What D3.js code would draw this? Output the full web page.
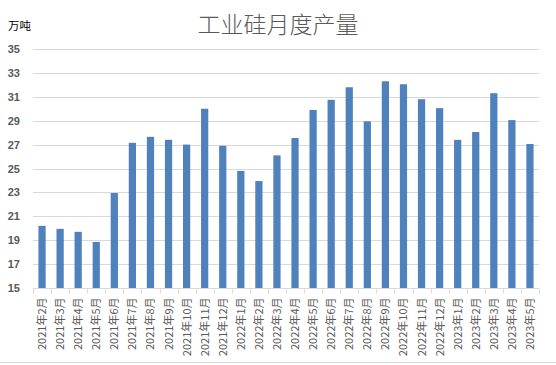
<!DOCTYPE html>
<html><head><meta charset="utf-8">
<script src="https://cdn.jsdelivr.net/npm/d3@7"></script>
<style>body{margin:0;background:#fff;} svg{display:block;}</style>
</head><body>
<script>
const categories = ["2021年2月","2021年3月","2021年4月","2021年5月","2021年6月","2021年7月","2021年8月","2021年9月","2021年10月","2021年11月","2021年12月",
"2022年1月","2022年2月","2022年3月","2022年4月","2022年5月","2022年6月","2022年7月","2022年8月","2022年9月","2022年10月","2022年11月","2022年12月",
"2023年1月","2023年2月","2023年3月","2023年4月","2023年5月"];
const values = [20.2,19.95,19.7,18.85,22.95,27.15,27.65,27.4,27.0,30.0,26.9,
24.8,23.95,26.1,27.55,29.9,30.75,31.8,28.95,32.3,32.05,30.8,30.05,
27.4,28.05,31.3,29.05,27.05];
const yTicks = [15,17,19,21,23,25,27,29,31,33,35];
const title = "工业硅月度产量";
const unit = "万吨";

const W = 556, H = 365;
const m = {left:33, right:17, top:49, bottom:77};
const svg = d3.select("body").append("svg").attr("width",W).attr("height",H);
const font = "'Noto Sans CJK SC','Microsoft YaHei',sans-serif";

const x = d3.scaleBand().domain(categories).range([m.left, W-m.right]).paddingInner(0.6).paddingOuter(0.3);
const y = d3.scaleLinear().domain([15,35]).range([H-m.bottom, m.top]);

// gridlines
svg.append("g").selectAll("line").data(yTicks.slice(1)).join("line")
  .attr("x1",m.left).attr("x2",W-m.right)
  .attr("y1",d=>Math.round(y(d))+0.5).attr("y2",d=>Math.round(y(d))+0.5)
  .attr("stroke","#d9d9d9").attr("stroke-width",1);

// bars
svg.append("g").selectAll("rect").data(values).join("rect")
  .attr("x",(d,i)=>x(categories[i]))
  .attr("width",x.bandwidth())
  .attr("y",d=>y(d))
  .attr("height",d=>y(15)-y(d))
  .attr("fill","#4f81bd");

// x axis line and ticks at band boundaries
const base = Math.round(y(15))+0.5;
svg.append("line").attr("x1",m.left).attr("x2",W-m.right).attr("y1",base).attr("y2",base)
  .attr("stroke","#d9d9d9");
const bounds = d3.range(categories.length+1).map(i => m.left + i*(W-m.left-m.right)/categories.length);
svg.append("g").selectAll("line").data(bounds).join("line")
  .attr("x1",d=>Math.round(d)+0.5).attr("x2",d=>Math.round(d)+0.5)
  .attr("y1",base).attr("y2",base+5).attr("stroke","#d9d9d9");

// x labels
svg.append("g").selectAll("text").data(categories).join("text")
  .attr("transform",d=>`translate(${x(d)+x.bandwidth()/2+4},${base+9}) rotate(-90)`)
  .attr("text-anchor","end")
  .attr("font-family",font).attr("font-size",11).attr("fill","#595959")
  .text(d=>d);

// y labels
svg.append("g").selectAll("text").data(yTicks).join("text")
  .attr("x",20).attr("y",d=>y(d)+4)
  .attr("text-anchor","end")
  .attr("font-family","'Liberation Sans',Arial,sans-serif").attr("font-weight","bold")
  .attr("font-size",11).attr("fill","#595959")
  .text(d=>d);

// unit
svg.append("text").attr("x",8).attr("y",30)
  .attr("font-family",font).attr("font-size",11.5).attr("fill","#000")
  .text(unit);

// title
svg.append("text").attr("x",278).attr("y",33).attr("text-anchor","middle")
  .attr("font-family",font).attr("font-weight",300).attr("font-size",23).attr("fill","#595959")
  .text(title);

// bottom border
svg.append("line").attr("x1",0).attr("x2",W).attr("y1",362.5).attr("y2",362.5).attr("stroke","#d9d9d9");
</script>
</body></html>
